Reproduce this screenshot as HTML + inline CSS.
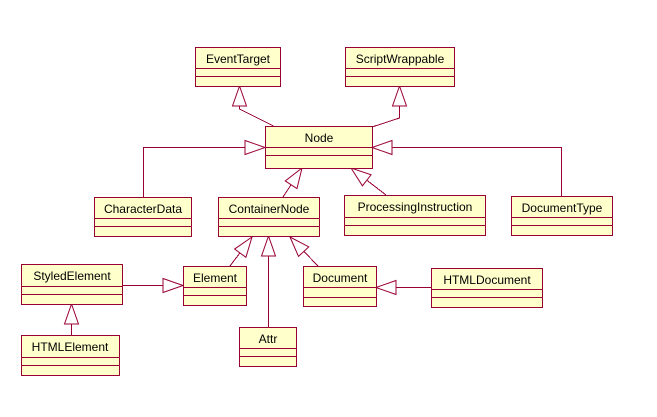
<!DOCTYPE html>
<html><head><meta charset="utf-8"><style>
html,body{margin:0;padding:0;background:#fff;width:657px;height:417px;overflow:hidden}
svg{display:block}
text{font-family:"Liberation Sans",sans-serif;font-size:12px;fill:#000}
</style></head><body>
<svg width="657" height="417" viewBox="0 0 657 417">
<g stroke="#990033" stroke-width="1" fill="none" shape-rendering="crispEdges">
<!-- connectors -->
<polyline points="273.5,126 239.5,109 239.5,106"/>
<polyline points="372,127 399.5,118 399.5,106"/>
<polyline points="143.5,197 143.5,147.5 246,147.5"/>
<polyline points="561.5,196 561.5,147.5 392,147.5"/>
<line x1="283" y1="197" x2="302" y2="168"/>
<line x1="386" y1="195" x2="351" y2="168"/>
<line x1="230" y1="266" x2="252" y2="237"/>
<line x1="268.5" y1="327" x2="268.5" y2="256"/>
<line x1="318" y1="266" x2="290" y2="237"/>
<line x1="122" y1="285.5" x2="163" y2="285.5"/>
<line x1="71.5" y1="335" x2="71.5" y2="324"/>
<line x1="431" y1="287.5" x2="396" y2="287.5"/>
</g>
<g stroke="#990033" stroke-width="1" fill="#fff">
<polygon points="0,0 -7,20 7,20" transform="translate(239.5,86)"/>
<polygon points="0,0 -7,20 7,20" transform="translate(399.5,86)"/>
<polygon points="0,0 -7,20 7,20" transform="translate(265,147.5) rotate(90)"/>
<polygon points="0,0 -7,20 7,20" transform="translate(372,147.5) rotate(-90)"/>
<polygon points="0,0 -7,20 7,20" transform="translate(302,168) rotate(33)"/>
<polygon points="0,0 -7,20 7,20" transform="translate(351,168) rotate(-52)"/>
<polygon points="0,0 -7,20 7,20" transform="translate(252,237) rotate(36)"/>
<polygon points="0,0 -7,20 7,20" transform="translate(268.5,236)"/>
<polygon points="0,0 -7,20 7,20" transform="translate(290,237) rotate(-43)"/>
<polygon points="0,0 -7,20 7,20" transform="translate(183,285.5) rotate(90)"/>
<polygon points="0,0 -7,20 7,20" transform="translate(71.5,304)"/>
<polygon points="0,0 -7,20 7,20" transform="translate(376,287.5) rotate(-90)"/>
</g>
<!-- classes -->
<g stroke="#990033" stroke-width="1" fill="#ffffcc" shape-rendering="crispEdges">
<rect x="195.5" y="47.5" width="85" height="39"/><path d="M195.5 68.5H280.5M195.5 76.5H280.5"/>
<rect x="345.5" y="47.5" width="109" height="39"/><path d="M345.5 68.5H454.5M345.5 76.5H454.5"/>
<rect x="265.5" y="126.5" width="107" height="42"/><path d="M265.5 147.5H372.5M265.5 155.5H372.5"/>
<rect x="94.5" y="197.5" width="97" height="39"/><path d="M94.5 218.5H191.5M94.5 226.5H191.5"/>
<rect x="218.5" y="197.5" width="101" height="39"/><path d="M218.5 218.5H319.5M218.5 226.5H319.5"/>
<rect x="344.5" y="195.5" width="141" height="40"/><path d="M344.5 217.5H485.5M344.5 225.5H485.5"/>
<rect x="511.5" y="196.5" width="101" height="39"/><path d="M511.5 217.5H612.5M511.5 225.5H612.5"/>
<rect x="21.5" y="264.5" width="101" height="40"/><path d="M21.5 286.5H122.5M21.5 294.5H122.5"/>
<rect x="183.5" y="266.5" width="63" height="39"/><path d="M183.5 287.5H246.5M183.5 295.5H246.5"/>
<rect x="303.5" y="266.5" width="73" height="40"/><path d="M303.5 287.5H376.5M303.5 297.5H376.5"/>
<rect x="431.5" y="268.5" width="111" height="39"/><path d="M431.5 289.5H542.5M431.5 297.5H542.5"/>
<rect x="239.5" y="327.5" width="57" height="39"/><path d="M239.5 348.5H296.5M239.5 356.5H296.5"/>
<rect x="21.5" y="335.5" width="98" height="40"/><path d="M21.5 357.5H119.5M21.5 365.5H119.5"/>
</g>
<g text-anchor="middle">
<text x="238" y="63">EventTarget</text>
<text x="400" y="63">ScriptWrappable</text>
<text x="319" y="142">Node</text>
<text x="143" y="213">CharacterData</text>
<text x="269" y="213">ContainerNode</text>
<text x="415" y="211">ProcessingInstruction</text>
<text x="562" y="212">DocumentType</text>
<text x="72" y="280">StyledElement</text>
<text x="215" y="282">Element</text>
<text x="340" y="282">Document</text>
<text x="487" y="284">HTMLDocument</text>
<text x="268" y="343">Attr</text>
<text x="70" y="351">HTMLElement</text>
</g>
</svg>
</body></html>
